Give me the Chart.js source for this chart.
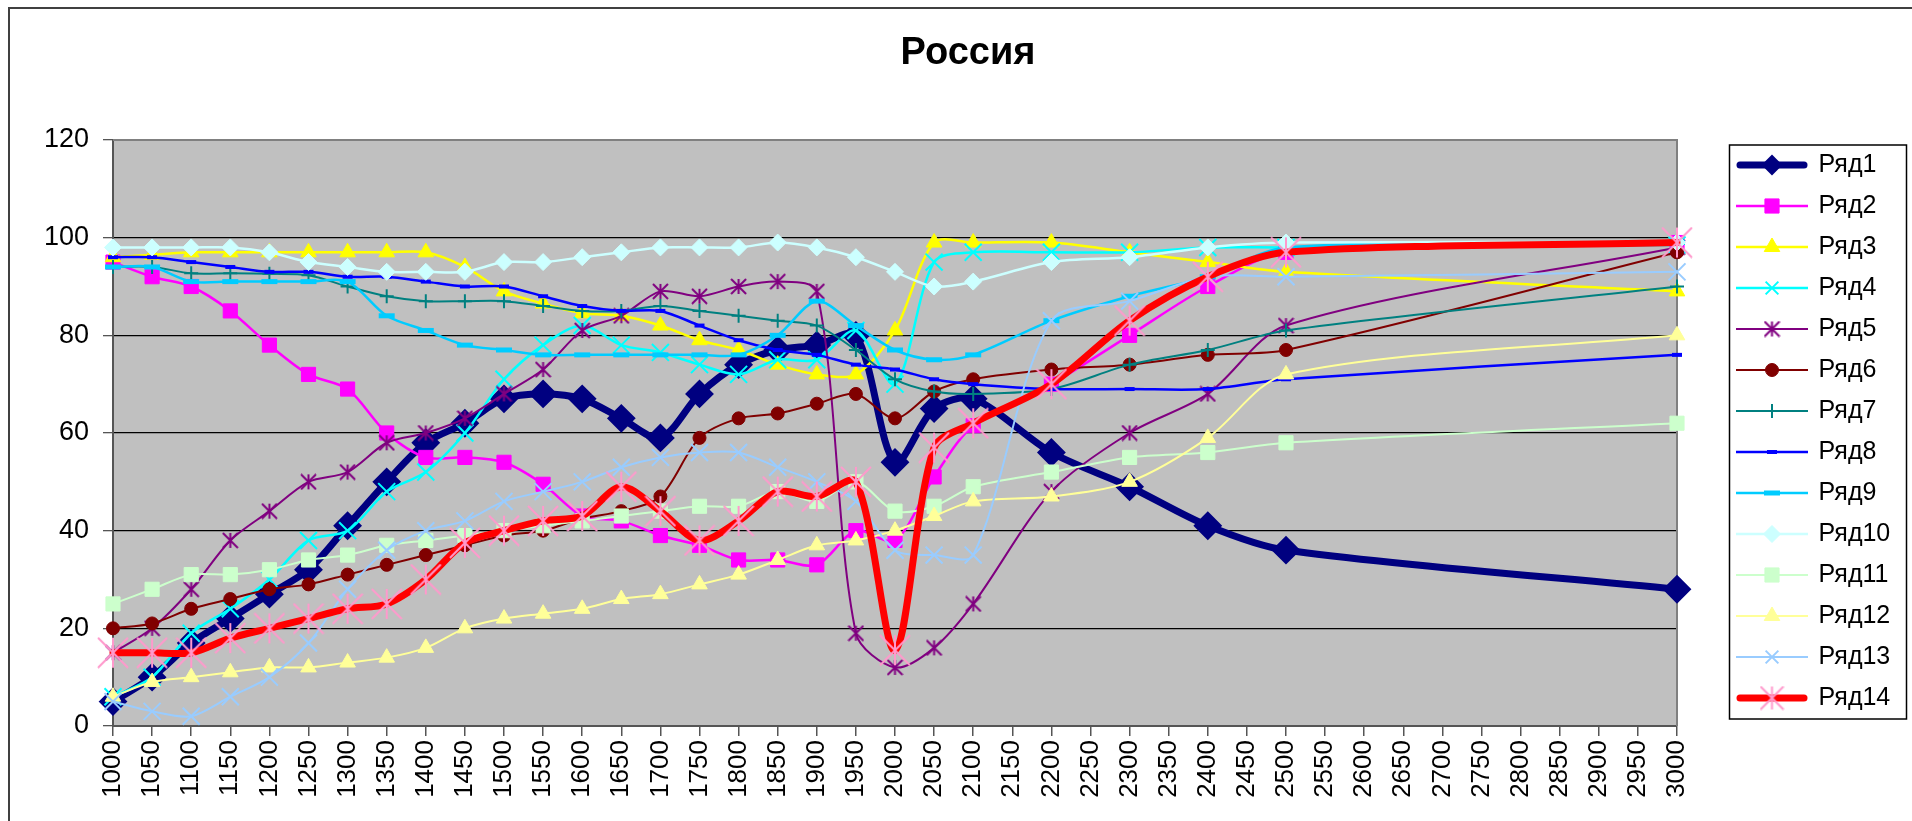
<!DOCTYPE html>
<html>
<head>
<meta charset="utf-8">
<title>Россия</title>
<script src="https://cdn.jsdelivr.net/npm/chart.js@4.4.1/dist/chart.umd.min.js"></script>
<style>
  html, body { margin: 0; padding: 0; background: #fff; }
  #wrap { width: 1912px; height: 821px; }
</style>
</head>
<body>
<div id="wrap"><canvas id="chart" width="1912" height="821"></canvas></div>
<script>
// categories (x axis)
var years = ['1000','1050','1100','1150','1200','1250','1300','1350','1400','1450',
             '1500','1550','1600','1650','1700','1750','1800','1850','1900','1950',
             '2000','2050','2100','2150','2200','2250','2300','2350','2400','2450',
             '2500','2550','2600','2650','2700','2750','2800','2850','2900','2950','3000'];

var yTicks = [0, 20, 40, 60, 80, 100, 120];

// series values, 1000..2100 every 50, then 2200, 2300, 2400, 2500 and 3000
var ryad1  = [5,10,17,22,27,32,41,50,58,62,67,68,67,63,59,68,74,77,78,80,54,65,67,
              null,56,null,49,null,41,null,36,null,null,null,null,null,null,null,null,null,28];
var ryad2  = [95,92,90,85,78,72,69,60,55,55,54,49.5,43,42,39,37,34,34,33,40,38,51,61.5,
              null,70,null,80,null,90,null,97,null,null,null,null,null,null,null,null,null,99];
var ryad3  = [96,96.5,97,97,97,97,97,97,97,94,89,86.5,84.5,84,82,79,77,74,72,72,81,99,99,
              null,99,null,97,null,95,null,93,null,null,null,null,null,null,null,null,null,89];
var ryad4  = [6,10,19,24,30,38,40,48,52,60,71,78,82,78,76.5,74,72,75,75,81,70,95,97,
              null,97,null,97,null,98,null,98,null,null,null,null,null,null,null,null,null,98.5];
var ryad5  = [15,20,28,38,44,50,52,58,60,63,68,73,81,84,89,88,90,91,89,19,12,16,25,
              null,48,null,60,null,68,null,82,null,null,null,null,null,null,null,null,null,98];
var ryad6  = [20,21,24,26,28,29,31,33,35,37,39,40,42.5,44,47,59,63,64,66,68,63,68.5,71,
              null,73,null,74,null,76,null,77,null,null,null,null,null,null,null,null,null,97];
var ryad7  = [94,94,92.7,92.7,92.6,92.3,90,88,87,87,87,86,85,85,86,85,84,83,82,77,71,68.5,68,
              null,69,null,74,null,77,null,81,null,null,null,null,null,null,null,null,null,90];
var ryad8  = [96,96,95,94,93,93,92,92,91,90,90,88,86,85,85,82,79,77,76,74,73,71,70,
              null,69,null,69,null,69,null,71,null,null,null,null,null,null,null,null,null,76];
var ryad9  = [94,94,91,91,91,91,91,84,81,78,77,76,76,76,76,76,76,80,87,82,77,75,76,
              null,83,null,88,null,92,null,98,null,null,null,null,null,null,null,null,null,99];
var ryad10 = [98,98,98,98,97,95,94,93,93,93,95,95,96,97,98,98,98,99,98,96,93,90,91,
              null,95,null,96,null,98,null,99,null,null,null,null,null,null,null,null,null,99];
var ryad11 = [25,28,31,31,32,34,35,37,38,39,40,41,42,43,44,45,45,48,46,50,44,45,49,
              null,52,null,55,null,56,null,58,null,null,null,null,null,null,null,null,null,62];
var ryad12 = [6,9,10,11,12,12,13,14,16,20,22,23,24,26,27,29,31,34,37,38,40,43,46,
              null,47,null,50,null,59,null,72,null,null,null,null,null,null,null,null,null,80];
var ryad13 = [5,3,2,6,10,17,28,36,40,42,46,48,50,53,55,56,56,53,50,46,36,35,35,
              null,83,null,87,null,92,null,92,null,null,null,null,null,null,null,null,null,93];
var ryad14 = [15,15,15,18,20,22,24,25,30,37.5,40,42,43,49,44,38,42,48,47,50,15.5,57,62,
              null,70,null,83,null,92,null,97,null,null,null,null,null,null,null,null,null,99];

var seriesNames = ['Ряд1','Ряд2','Ряд3','Ряд4','Ряд5','Ряд6','Ряд7','Ряд8','Ряд9','Ряд10','Ряд11','Ряд12','Ряд13','Ряд14'];
var seriesData  = [ryad1, ryad2, ryad3, ryad4, ryad5, ryad6, ryad7, ryad8, ryad9, ryad10, ryad11, ryad12, ryad13, ryad14];

var FONT = "'Liberation Sans', Arial, sans-serif";

// excel style asterisk marker (x plus a vertical bar)
function asterisk(size, color, lw) {
    var c = document.createElement('canvas');
    c.width = size; c.height = size;
    var g = c.getContext('2d');
    var m = size / 2, d = size / 2 - 1;
    g.strokeStyle = color;
    g.lineWidth = lw;
    g.beginPath();
    g.moveTo(m, m - d); g.lineTo(m, m + d);
    g.moveTo(m - d, m - d); g.lineTo(m + d, m + d);
    g.moveTo(m + d, m - d); g.lineTo(m - d, m + d);
    g.stroke();
    return c;
}

var lineColors   = ['#000080','#FF00FF','#FFFF00','#00FFFF','#800080','#800000','#008080','#0000FF','#00CCFF','#CCFFFF','#CCFFCC','#FFFF99','#99CCFF','#FF0000'];
var markerColors = ['#000080','#FF00FF','#FFFF00','#00FFFF','#800080','#800000','#008080','#0000FF','#00CCFF','#CCFFFF','#CCFFCC','#FFFF99','#99CCFF','#FF99CC'];
var lineWidths   = [7, 2.5, 2.5, 2.5, 2, 2, 2, 2.5, 2.5, 2.5, 2, 2, 2, 7];
var markerStyles = ['rectRot','rect','triangle','crossRot', asterisk(17, '#800080', 2),'circle','cross','line','line','rectRot','rect','triangle','crossRot', asterisk(32, '#FF99CC', 2)];
var markerRadii  = [13, 10, 9, 12, 8, 6.5, 7, 5, 8, 8.5, 10, 9, 12, 16];
var markerBorder = [2, 1, 1, 2, 2, 1, 2, 4, 5, 1, 1, 1, 2, 2];
var legendStyles = markerStyles.slice(); legendStyles[13] = asterisk(25, '#FF99CC', 2);
var legendRadii  = markerRadii.slice(); legendRadii[0] = 9; legendRadii[3] = 9; legendRadii[12] = 9;

// small canvas used as legend symbol: line with marker in the middle
function legendIcon(i) {
    var c = document.createElement('canvas');
    c.width = 72; c.height = 30;
    var g = c.getContext('2d');
    var thick = lineWidths[i] > 4;
    g.strokeStyle = lineColors[i];
    g.lineWidth = lineWidths[i];
    g.lineCap = thick ? 'round' : 'butt';
    g.beginPath();
    g.moveTo(thick ? 4 : 0, 15);
    g.lineTo(thick ? 68 : 72, 15);
    g.stroke();
    g.fillStyle = markerColors[i];
    g.strokeStyle = markerColors[i];
    g.lineWidth = markerBorder[i];
    Chart.helpers.drawPoint(g, {pointStyle: legendStyles[i], radius: legendRadii[i], borderWidth: markerBorder[i], rotation: 0}, 36, 15);
    return c;
}

var datasets = seriesNames.map(function (name, i) {
    return {
        label: name,
        data: seriesData[i],
        borderColor: lineColors[i],
        backgroundColor: lineColors[i],
        borderWidth: lineWidths[i],
        borderCapStyle: 'round',
        borderJoinStyle: 'round',
        pointStyle: markerStyles[i],
        pointRadius: markerRadii[i],
        pointBorderWidth: markerBorder[i],
        pointBackgroundColor: markerColors[i],
        pointBorderColor: markerColors[i],
        tension: 0.3,
        spanGaps: true,
        fill: false,
        clip: false,
        order: seriesNames.length - 1 - i   // Ряд14 on top, like excel
    };
});

var icons = seriesNames.map(function (n, i) { return legendIcon(i); });

// grey plot area, frame and legend box
var excelFrame = {
    id: 'excelFrame',
    beforeDraw: function (chart) {
        var a = chart.chartArea, g = chart.ctx;
        g.save();
        g.fillStyle = '#fff';
        g.fillRect(0, 0, chart.width, chart.height);
        g.fillStyle = '#C0C0C0';
        g.fillRect(a.left, a.top, a.right - a.left, a.bottom - a.top);
        g.strokeStyle = '#404040';
        g.lineWidth = 2;
        g.beginPath();
        g.moveTo(9, chart.height); g.lineTo(9, 8); g.lineTo(chart.width, 8);
        g.stroke();
        g.restore();
    },
    beforeDatasetsDraw: function (chart) {
        var a = chart.chartArea, g = chart.ctx;
        g.save();
        g.strokeStyle = '#808080';
        g.lineWidth = 2;
        g.beginPath();
        g.moveTo(a.left, a.top); g.lineTo(a.right, a.top); g.lineTo(a.right, a.bottom);
        g.stroke();
        g.restore();
    },
    afterDraw: function (chart) {
        var L = chart.legend, hb = L.legendHitBoxes, g = chart.ctx;
        if (!hb || !hb.length) return;
        var top = hb[0].top - 8;
        var bottom = hb[hb.length - 1].top + hb[hb.length - 1].height + 8;
        g.save();
        g.strokeStyle = '#000';
        g.lineWidth = 1.5;
        g.strokeRect(L.left + 7.5, top + 0.5, 177, bottom - top);
        g.restore();
    }
};

var ctx = document.getElementById('chart').getContext('2d');
var myChart = new Chart(ctx, {
    type: 'line',
    data: {
        labels: years,
        datasets: datasets
    },
    plugins: [excelFrame],
    options: {
        responsive: false,
        animation: false,
        devicePixelRatio: 1,
        events: [],
        layout: {
            padding: { top: 42, left: 44, right: 20, bottom: 0 }
        },
        scales: {
            x: {
                type: 'category',
                offset: false,
                grid: { drawOnChartArea: false, drawTicks: true, tickLength: 10, tickColor: '#555', lineWidth: 1.5 },
                border: { color: '#555', width: 2 },
                ticks: { autoSkip: false, minRotation: 90, maxRotation: 90, padding: 4, color: '#000',
                         font: { family: FONT, size: 26 } },
                afterFit: function (s) { s.height = 95; }
            },
            y: {
                min: yTicks[0],
                max: yTicks[yTicks.length - 1],
                afterBuildTicks: function (s) { s.ticks = yTicks.map(function (v) { return { value: v }; }); },
                grid: {
                    color: function (c) { return c.tick && c.tick.value === 120 ? '#808080' : '#000'; },
                    lineWidth: 1.3, tickLength: 10, tickColor: '#555'
                },
                border: { color: '#555', width: 2 },
                ticks: { padding: 14, color: '#000', font: { family: FONT, size: 27 } },
                afterFit: function (s) { s.width = 69; }
            },
            gap: {
                type: 'linear',
                position: 'right',
                display: true,
                grid: { display: false, drawTicks: false, drawOnChartArea: false },
                border: { display: false },
                ticks: { display: false },
                afterFit: function (s) { s.width = 45; }
            }
        },
        plugins: {
            title: {
                display: true,
                text: 'Россия',
                color: '#000',
                font: { family: FONT, size: 38, weight: 'bold', lineHeight: 1 },
                padding: { top: -7, bottom: 67 }
            },
            legend: {
                display: true,
                position: 'right',
                align: 'center',
                maxWidth: 170,
                labels: {
                    usePointStyle: true,
                    pointStyleWidth: 68,
                    padding: 16,
                    color: '#000',
                    font: { family: FONT, size: 25 },
                    generateLabels: function (chart) {
                        return chart.data.datasets.map(function (ds, i) {
                            return { text: ds.label, pointStyle: icons[i], datasetIndex: i, hidden: false,
                                     fillStyle: 'transparent', strokeStyle: 'transparent', lineWidth: 0, fontColor: '#000' };
                        });
                    }
                }
            },
            tooltip: { enabled: false }
        }
    }
});
</script>
</body>
</html>
